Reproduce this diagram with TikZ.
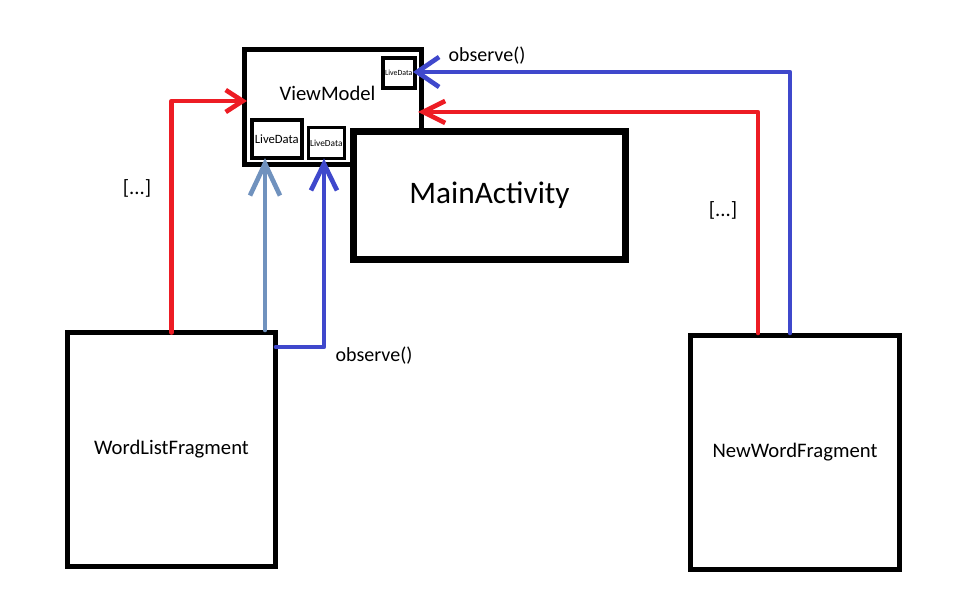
\documentclass[tikz,border=0pt]{standalone}
\usepackage{fontspec}
\setmainfont{Carlito}
\usetikzlibrary{arrows.meta,calc}
\definecolor{pred}{HTML}{ED1C24}
\definecolor{pblue}{HTML}{3F48CC}
\definecolor{pgray}{HTML}{7092BE}
\tikzset{
  box/.style={draw=black, fill=white, inner sep=0pt, outer sep=0pt},
  lbl/.style={inner sep=0pt, font=\fontsize{15.5pt}{18pt}\selectfont},
  smalllbl/.style={inner sep=0pt, font=\fontsize{15pt}{18pt}\selectfont},
  conn/.style={line width=3.5pt, line cap=round, line join=round},
}
\begin{document}
\begin{tikzpicture}[x=0.75pt,y=-0.75pt]
\useasboundingbox (0,0) rectangle (960,616);
% ViewModel
\node[box, line width=3.75pt, minimum width=133.2pt, minimum height=86.25pt] (vm) at (333,107.3) {};
\node[lbl, anchor=base] (vmt) at (327.5,101) {ViewModel};
\node[box, line width=3pt, minimum width=37.3pt, minimum height=28.3pt, font=\fontsize{9.5pt}{11pt}\selectfont] (ld1) at (276.8,139.2) {LiveData};
\node[box, line width=2.25pt, minimum width=26.8pt, minimum height=23.2pt, font=\fontsize{7pt}{8pt}\selectfont] (ld2) at (326.3,143) {LiveData};
\node[box, line width=3pt, minimum width=23.8pt, minimum height=22.3pt, font=\fontsize{5.9pt}{7pt}\selectfont] (ld3) at (398.8,72.8) {LiveData};
% MainActivity
\node[box, line width=5.25pt, minimum width=203.6pt, minimum height=95.8pt, font=\fontsize{23.5pt}{28pt}\selectfont] (ma) at (489.5,195.3) {MainActivity};
% Fragments
\node[box, line width=3.75pt, minimum width=156pt, minimum height=175.5pt, font=\fontsize{15.5pt}{18pt}\selectfont] (wl) at (171.5,449.5) {WordListFragment};
\node[box, line width=3.75pt, minimum width=156.75pt, minimum height=175.5pt, font=\fontsize{15.5pt}{18pt}\selectfont] (nw) at (795,452.5) {NewWordFragment};
% connectors
\draw[conn, pred, -{Straight Barb[length=12.75pt,width=16.5pt]}] (wl.north) |- ($(vm.west)+(2.8,-6.3)$);
\draw[conn, pgray, -{Straight Barb[length=24pt,width=22.5pt]}] ($(wl.north east)+(-10.5,-2.5)$) coordinate (p1) -- (p1 |- ld1.south);
\draw[conn, pblue, -{Straight Barb[length=20pt,width=19.5pt]}] ($(wl.north east)+(0.5,14.5)$) -| ($(ld2.south)+(-2.3,0)$);
\draw[conn, pblue, -{Straight Barb[length=16.5pt,width=22.5pt]}] ($(nw.north)+(-5,-2.5)$) |- ($(ld3.east)+(-1.7,-0.8)$);
\draw[conn, pred, -{Straight Barb[length=16.5pt,width=16.5pt]}] ($(nw.north)+(-37,-2.5)$) |- ($(vm.east)+(-3.8,4.7)$);
% labels
\node[smalllbl, anchor=base] (obs1) at (374,362) {observe()};
\node[smalllbl, anchor=base] (obs2) at (487,61.5) {observe()};
\node[lbl, anchor=base] (dots1) at (137,195) {[...]};
\node[lbl, anchor=base] (dots2) at (723,217) {[...]};
\end{tikzpicture}
\end{document}
